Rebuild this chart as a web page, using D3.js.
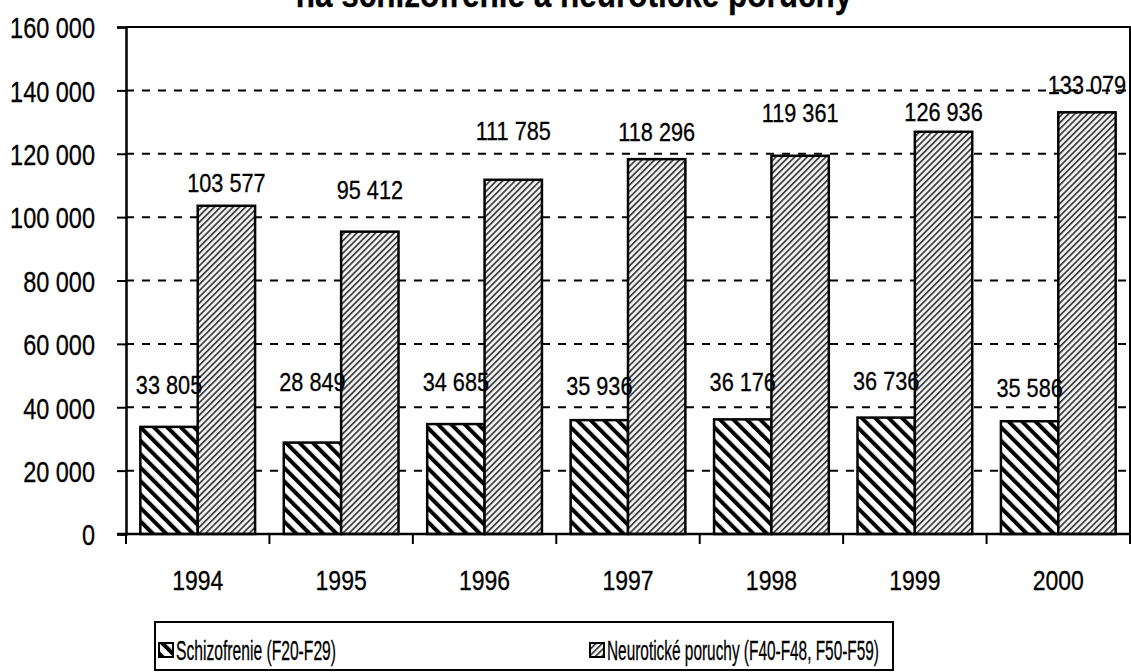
<!DOCTYPE html>
<html>
<head>
<meta charset="utf-8">
<script src="https://cdn.jsdelivr.net/npm/d3@7"></script>
<style>
  body { margin: 0; background: #fff; }
  svg { display: block; font-family: "Liberation Sans", Arial, sans-serif; }
</style>
</head>
<body>
<div id="chart"></div>
<script>
// data
var years = ["1994", "1995", "1996", "1997", "1998", "1999", "2000"];
var schizofrenie = [33805, 28849, 34685, 35936, 36176, 36736, 35586];
var neuroticke = [103577, 95412, 111785, 118296, 119361, 126936, 133079];
var seriesNames = ["Schizofrenie (F20-F29)", "Neurotické poruchy (F40-F48, F50-F59)"];
var yTicks = [0, 20000, 40000, 60000, 80000, 100000, 120000, 140000, 160000];
var title = "na schizofrenie a neurotické poruchy";

(function() {
    var width = 1131, height = 672;
    var left = 126, right = 1130, top = 27, bottom = 534;
    var sy = 1.22; // text is drawn taller than wide, like the original

    // label nudges (px above bar top) - the original had hand-placed labels
    var shiftS = [42, 61, 43, 35, 38, 37, 34];
    var shiftN = [23, 42, 49, 28, 43, 20, 28];

    var svg = d3.select("#chart").append("svg")
        .attr("width", width)
        .attr("height", height);

    var defs = svg.append("defs");
    var p1 = defs.append("pattern")
        .attr("id", "hatchS")
        .attr("patternUnits", "userSpaceOnUse")
        .attr("width", 9.5).attr("height", 9.5)
        .attr("patternTransform", "rotate(-45)");
    p1.append("rect").attr("width", 9.5).attr("height", 9.5).attr("fill", "#fff");
    p1.append("rect").attr("x", 0).attr("width", 4).attr("height", 9.5).attr("fill", "#000");

    var p2 = defs.append("pattern")
        .attr("id", "hatchN")
        .attr("patternUnits", "userSpaceOnUse")
        .attr("width", 4.4).attr("height", 4.4)
        .attr("patternTransform", "rotate(45)");
    p2.append("rect").attr("width", 4.4).attr("height", 4.4).attr("fill", "#f2f2f2");
    p2.append("rect").attr("x", 0).attr("width", 1.6).attr("height", 4.4).attr("fill", "#333");

    var x0 = d3.scaleBand().domain(years).range([left, right]).paddingInner(0.2).paddingOuter(0.1);
    var x1 = d3.scaleBand().domain([0, 1]).range([0, x0.bandwidth()]);
    var xCat = d3.scaleBand().domain(years).range([left, right]);
    var y = d3.scaleLinear().domain([0, 160000]).range([bottom, top]);

    var fmt = function(v) { return d3.format(",")(v).replace(/,/g, " "); };

    function stretched(g, x, yc, size, anchor, txt, weight, scaleY) {
        // yc = vertical centre of the digits / capitals
        var s = scaleY || sy;
        var base = yc + 0.716 * size * s / 2;
        return g.append("text")
            .attr("transform", "translate(" + x + "," + base + ") scale(1," + s + ")")
            .attr("font-size", size)
            .attr("font-weight", weight || "normal")
            .attr("text-anchor", anchor)
            .attr("fill", "#000")
            .attr("stroke", "#000")
            .attr("stroke-width", 0.25)
            .text(txt);
    }

    // title, mostly cut off at the top
    stretched(svg, 574, -6, 31.5, "middle", title, "bold", 1.15);

    // gridlines
    svg.append("g").selectAll("line")
        .data(yTicks.slice(1))
        .enter().append("line")
        .attr("x1", left).attr("x2", right)
        .attr("y1", function(d) { return y(d); })
        .attr("y2", function(d) { return y(d); })
        .attr("stroke", "#000")
        .attr("stroke-width", 2)
        .attr("stroke-dasharray", "8 8");

    // frame top + right
    svg.append("path")
        .attr("d", "M" + left + "," + top + "H" + right + "V" + bottom)
        .attr("fill", "none")
        .attr("stroke", "#000")
        .attr("stroke-width", 2);

    // bars
    var groups = svg.append("g").selectAll("g")
        .data(years)
        .enter().append("g")
        .attr("transform", function(d) { return "translate(" + x0(d) + ",0)"; });

    groups.append("rect")
        .attr("x", x1(0))
        .attr("width", x1.bandwidth())
        .attr("y", function(d, i) { return y(schizofrenie[i]); })
        .attr("height", function(d, i) { return bottom - y(schizofrenie[i]); })
        .attr("fill", "url(#hatchS)")
        .attr("stroke", "#000").attr("stroke-width", 2.5);

    groups.append("rect")
        .attr("x", x1(1))
        .attr("width", x1.bandwidth())
        .attr("y", function(d, i) { return y(neuroticke[i]); })
        .attr("height", function(d, i) { return bottom - y(neuroticke[i]); })
        .attr("fill", "url(#hatchN)")
        .attr("stroke", "#000").attr("stroke-width", 2.5);

    // value labels
    var labels = svg.append("g");
    years.forEach(function(yr, i) {
        var bx = x0(yr);
        stretched(labels, bx + x1(0) + x1.bandwidth() / 2, y(schizofrenie[i]) - shiftS[i], 21.7, "middle", fmt(schizofrenie[i]));
        stretched(labels, bx + x1(1) + x1.bandwidth() / 2, y(neuroticke[i]) - shiftN[i], 21.7, "middle", fmt(neuroticke[i]));
    });

    // y axis
    var yAxis = d3.axisLeft(y).tickValues(yTicks).tickSize(9).tickFormat("");
    var yg = svg.append("g")
        .attr("transform", "translate(" + left + ",0)")
        .call(yAxis);
    yg.select(".domain").attr("stroke", "#000").attr("stroke-width", 2.5);
    yg.selectAll(".tick line").attr("stroke", "#000").attr("stroke-width", 2);
    yTicks.forEach(function(t) {
        stretched(svg, 95, y(t) + 1, 23.5, "end", fmt(t));
    });

    // x axis - ticks at category boundaries
    var xg = svg.append("g");
    xg.append("line")
        .attr("x1", left - 9).attr("x2", right)
        .attr("y1", bottom).attr("y2", bottom)
        .attr("stroke", "#000").attr("stroke-width", 2.5);
    xg.selectAll("line.tk")
        .data(years.concat(["end"]))
        .enter().append("line")
        .attr("class", "tk")
        .attr("x1", function(d) { return d === "end" ? right : xCat(d); })
        .attr("x2", function(d) { return d === "end" ? right : xCat(d); })
        .attr("y1", bottom).attr("y2", bottom + 10)
        .attr("stroke", "#000").attr("stroke-width", 2);
    years.forEach(function(yr) {
        stretched(svg, xCat(yr) + xCat.bandwidth() / 2, 580, 23, "middle", yr);
    });

    // legend - text is narrow in the original
    var lg = svg.append("g");
    lg.append("rect")
        .attr("x", 155).attr("y", 622)
        .attr("width", 738).attr("height", 48)
        .attr("fill", "#fff")
        .attr("stroke", "#000").attr("stroke-width", 2);
    var legendItems = [
        { name: seriesNames[0], fill: "url(#hatchS)", x: 159, len: 160 },
        { name: seriesNames[1], fill: "url(#hatchN)", x: 590, len: 272 }
    ];
    legendItems.forEach(function(it) {
        lg.append("rect")
            .attr("x", it.x).attr("y", 643)
            .attr("width", 14).attr("height", 14)
            .attr("fill", it.fill)
            .attr("stroke", "#000").attr("stroke-width", 2);
        stretched(lg, it.x + 17, 650, 21, "start", it.name, "normal", 1.32)
            .attr("textLength", it.len)
            .attr("lengthAdjust", "spacingAndGlyphs");
    });
})();
</script>
</body>
</html>
